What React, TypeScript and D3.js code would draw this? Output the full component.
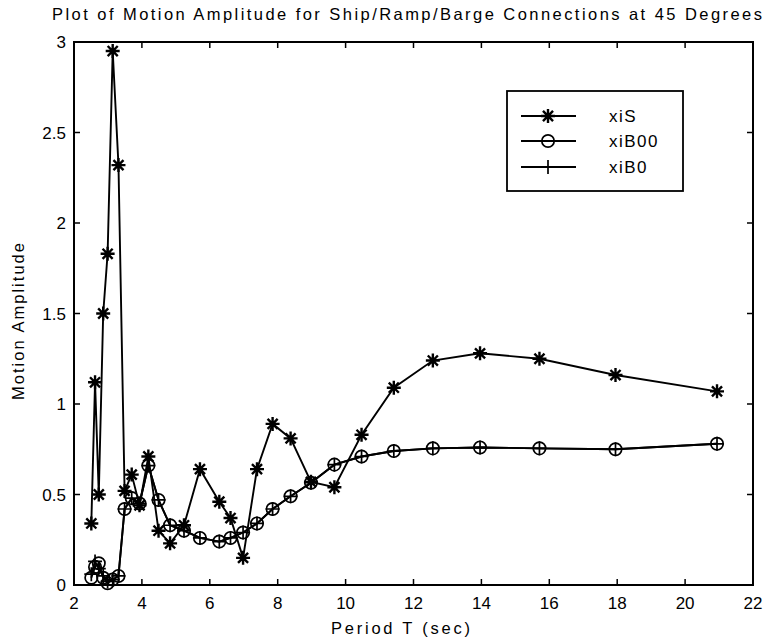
import React from "react";
import * as d3 from "d3";

const periods = [2.51, 2.62, 2.73, 2.86, 2.99, 3.14, 3.31, 3.49, 3.70, 3.93, 4.19, 4.49, 4.83, 5.24, 5.71, 6.28, 6.61, 6.98, 7.39, 7.85, 8.38, 8.98, 9.67, 10.47, 11.42, 12.57, 13.96, 15.71, 17.95, 20.94];
const xiS = [0.34, 1.12, 0.50, 1.50, 1.83, 2.95, 2.32, 0.52, 0.61, 0.44, 0.71, 0.30, 0.23, 0.33, 0.64, 0.46, 0.37, 0.15, 0.64, 0.89, 0.81, 0.57, 0.54, 0.83, 1.09, 1.24, 1.28, 1.25, 1.16, 1.07];
const xiB00 = [0.04, 0.10, 0.12, 0.04, 0.01, 0.03, 0.05, 0.42, 0.48, 0.45, 0.66, 0.47, 0.33, 0.30, 0.26, 0.24, 0.26, 0.29, 0.34, 0.42, 0.49, 0.565, 0.665, 0.71, 0.74, 0.755, 0.76, 0.755, 0.75, 0.78];
const xiB0 = [0.06, 0.13, 0.09, 0.05, 0.02, 0.03, 0.05, 0.42, 0.48, 0.45, 0.66, 0.47, 0.33, 0.30, 0.26, 0.24, 0.26, 0.29, 0.34, 0.42, 0.49, 0.565, 0.665, 0.71, 0.74, 0.755, 0.76, 0.755, 0.75, 0.78];
const xTicks = [2, 4, 6, 8, 10, 12, 14, 16, 18, 20, 22];
const yTicks = [0, 0.5, 1, 1.5, 2, 2.5, 3];
const yTickLabels = ["0", "0.5", "1", "1.5", "2", "2.5", "3"];
const seriesNames = ["xiS", "xiB00", "xiB0"];
const markerTypes = ["star", "circle", "plus"];

const W = 767, H = 644;
const L = 74, R = 753, T = 42, B = 585;
const FONT = "'Liberation Sans', Arial, Helvetica, sans-serif";

function Marker({ type, x, y }: { type: string; x: number; y: number }) {
  const h = 7;
  if (type === "star") {
    const k = h * 0.72;
    return (
      <path
        transform={`translate(${x},${y})`}
        d={`M${-h},0L${h},0M0,${-h}L0,${h}M${-k},${-k}L${k},${k}M${-k},${k}L${k},${-k}`}
        stroke="#000" strokeWidth={2.4} fill="none"
      />
    );
  }
  if (type === "circle") {
    return <circle cx={x} cy={y} r={6.2} stroke="#000" strokeWidth={1.7} fill="none" />;
  }
  return (
    <path
      transform={`translate(${x},${y})`}
      d={`M${-h},0L${h},0M0,${-h}L0,${h}`}
      stroke="#000" strokeWidth={1.7} fill="none"
    />
  );
}

export default function App() {
  const x = d3.scaleLinear().domain([2, 22]).range([L, R]);
  const y = d3.scaleLinear().domain([0, 3]).range([B, T]);
  const line = d3.line<number>().x((_, i) => x(periods[i])).y((d) => y(d));
  const allSeries = [xiS, xiB00, xiB0];

  const legX = 507, legY = 91, legW = 176, legH = 100;
  const rowYs = [116, 141, 167];

  return (
    <svg width={W} height={H} style={{ position: "absolute", left: 0, top: 0, background: "#fff" }} fontFamily={FONT}>
      <rect x={0} y={0} width={W} height={H} fill="#fff" />
      <text x={52} y={20} fontSize={16.5} textLength={710} lengthAdjust="spacing">
        Plot of Motion Amplitude for Ship/Ramp/Barge Connections at 45 Degrees
      </text>
      {allSeries.map((s, si) => (
        <path key={"l" + si} d={line(s) || ""} fill="none" stroke="#000" strokeWidth={1.9} />
      ))}
      {allSeries.map((s, si) =>
        s.map((v, i) => <Marker key={`m${si}-${i}`} type={markerTypes[si]} x={x(periods[i])} y={y(v)} />)
      )}
      <rect x={L} y={T} width={R - L} height={B - T} fill="none" stroke="#000" strokeWidth={2} />
      {xTicks.map((t, i) => (
        <g key={"xt" + i}>
          <line x1={x(t)} x2={x(t)} y1={B} y2={B - 6} stroke="#000" strokeWidth={1.5} />
          <line x1={x(t)} x2={x(t)} y1={T} y2={T + 6} stroke="#000" strokeWidth={1.5} />
          <text x={x(t)} y={B + 24} textAnchor="middle" fontSize={17}>{t}</text>
        </g>
      ))}
      {yTicks.map((t, i) => (
        <g key={"yt" + i}>
          <line x1={L} x2={L + 6} y1={y(t)} y2={y(t)} stroke="#000" strokeWidth={1.5} />
          <line x1={R} x2={R - 6} y1={y(t)} y2={y(t)} stroke="#000" strokeWidth={1.5} />
          <text x={L - 8} y={y(t) + 6} textAnchor="end" fontSize={17}>{yTickLabels[i]}</text>
        </g>
      ))}
      <text x={331} y={634} fontSize={16.5} textLength={139} lengthAdjust="spacing">Period T (sec)</text>
      <text transform={`translate(24,400) rotate(-90)`} fontSize={16.5} textLength={157} lengthAdjust="spacing">Motion Amplitude</text>
      <rect x={legX} y={legY} width={legW} height={legH} fill="#fff" stroke="#000" strokeWidth={1.8} />
      {seriesNames.map((n, i) => (
        <g key={"lg" + i}>
          <line x1={521} x2={576} y1={rowYs[i]} y2={rowYs[i]} stroke="#000" strokeWidth={1.8} />
          <Marker type={markerTypes[i]} x={548} y={rowYs[i]} />
          <text x={609} y={rowYs[i] + 6} fontSize={17} letterSpacing={1.5}>{n}</text>
        </g>
      ))}
    </svg>
  );
}
